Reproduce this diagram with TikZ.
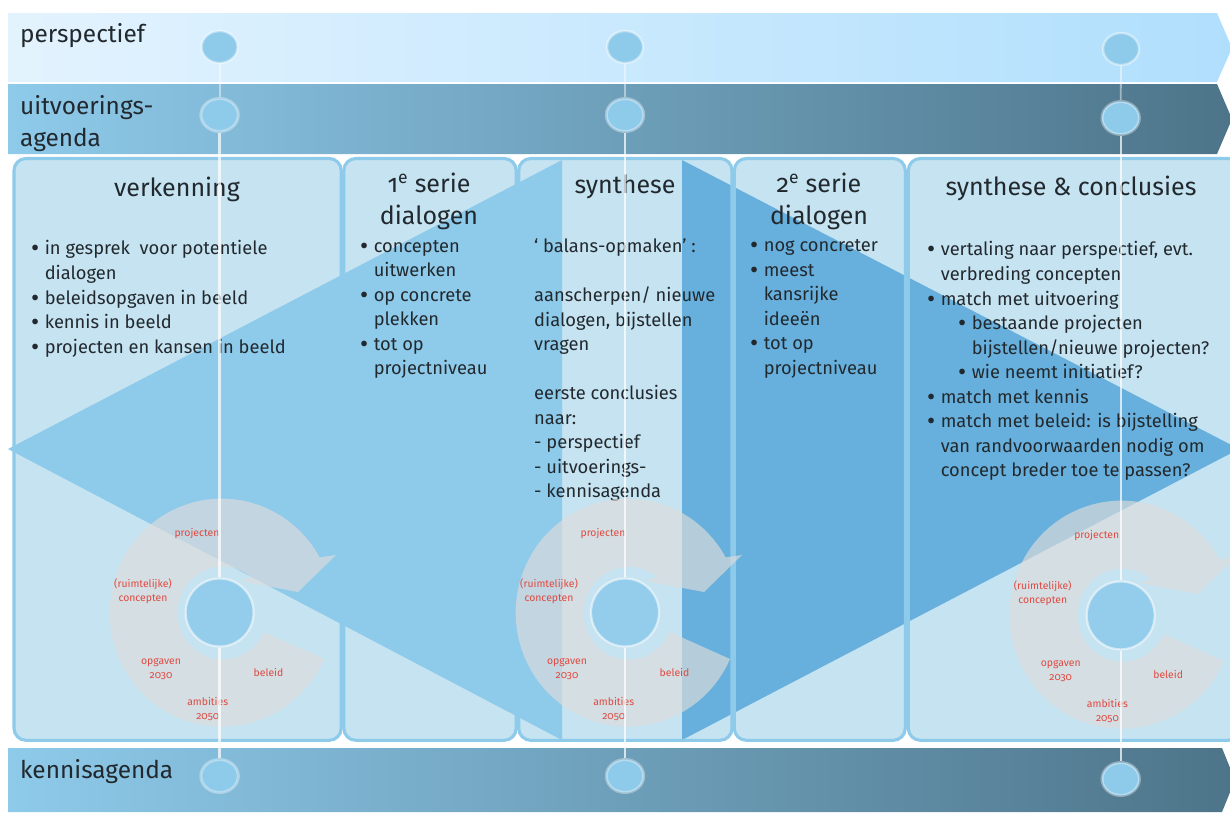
\documentclass[tikz,border=0pt]{standalone}
\usepackage{fontspec}
\setmainfont[Numbers=OldStyle]{Fira Sans}
\usetikzlibrary{shapes.geometric}
\definecolor{paneelfill}{HTML}{C6E3F1}
\definecolor{paneelrand}{HTML}{8ECAEA}
\definecolor{driehoekdonker}{HTML}{67B0DD}
\definecolor{tekstkleur}{HTML}{22292E}
\definecolor{ringgrijs}{HTML}{DEDCDB}
\definecolor{ringrood}{HTML}{DF4A42}
\definecolor{bandlicht}{HTML}{E3F3FE}
\definecolor{bandlichtrechts}{HTML}{B0DFFD}
\definecolor{banddonker}{HTML}{4D7489}
\tikzset{
  paneel/.style={rounded corners=12pt},
  rand/.style={draw=paneelrand,line width=3.1pt},
  bandtekst/.style={text=tekstkleur,font=\fontsize{24.4}{32}\selectfont,anchor=west,align=left,inner sep=0pt},
  titel/.style={text=tekstkleur,font=\fontsize{25}{32}\selectfont,align=center,inner sep=0pt},
  lijst/.style={text=tekstkleur,font=\fontsize{18.3}{24.55}\selectfont,anchor=north west,align=left,inner sep=0pt},
  ringtekst/.style={text=ringrood,font=\fontsize{10.4}{14}\selectfont,align=center,inner sep=0pt},
  bol/.style={ellipse,minimum width=36pt,minimum height=32pt,inner sep=0pt,fill=paneelrand,draw=white,draw opacity=.45,line width=2.4pt},
  bolmid/.style={ellipse,minimum width=37.5pt,minimum height=33pt,inner sep=0pt,fill=paneelrand,draw=white,draw opacity=.35,line width=3pt},
  hub/.style={circle,minimum size=68pt,inner sep=0pt,fill=paneelrand!95!white,draw=white,draw opacity=.55,line width=2.2pt},
  lijn/.style={draw=white,line width=2.3pt,opacity=.72},
  lijndun/.style={draw=white,line width=1.8pt,opacity=.45}
}
\newcommand{\bul}{\makebox[13.6pt][l]{\raisebox{-2pt}{\fontsize{25}{25}\selectfont\textbullet}}}
\newcommand{\hang}{\hspace*{13.6pt}}
% ring met pijl en de teksten erop
\newcommand{\cyclusring}[3]{
  \begin{scope}[shift={(#1,#2)}]
    \fill[ringgrijs,opacity=.66] (102,45) arc[start angle=-24,end angle=-331,x radius=112pt,y radius=114pt]
      -- (114,-59) -- (76,-22) -- (18,-33) -- (29,-37)
      arc[start angle=51,end angle=336,x radius=45pt,y radius=46.5pt] -- cycle;
    \node[ringtekst] (#3proj) at (-25,-80.5) {projecten};
    \node[ringtekst] (#3conc) at (-79,-22.5) {(ruimtelijke)\\concepten};
    \node[ringtekst] (#3opg) at (-61,55.5) {opgaven\\2030};
    \node[ringtekst] (#3bel) at (46.5,58.5) {beleid};
    \node[ringtekst] (#3amb) at (-14.3,95) {ambities\\2050};
  \end{scope}
}
\begin{document}
\begin{tikzpicture}[x=1pt,y=-1pt]
  \useasboundingbox (0,0) rectangle (1230,812);
  \clip (0,0) rectangle (1230,812);
  % banden
  \shade[left color=bandlicht,right color=bandlichtrechts] (8,13) -- (1217,13) -- (1232,48) -- (1217,82) -- (8,82) -- cycle;
  \shade[left color=paneelrand,right color=banddonker] (8,84) -- (1217,84) -- (1232,119) -- (1217,154) -- (8,154) -- cycle;
  \shade[left color=paneelrand,right color=banddonker] (8,748) -- (1222,748) -- (1235,780) -- (1222,812) -- (8,812) -- cycle;
  % panelen
  \fill[paneel,paneelfill] (14,158.5) rectangle (341.2,740.3);
  \fill[paneel,paneelfill] (343.8,158.5) rectangle (516.2,740.3);
  \fill[paneel,paneelfill] (518.7,158.5) rectangle (732,740.3);
  \fill[paneel,paneelfill] (734.3,158.5) rectangle (905.3,740.3);
  \fill[paneel,paneelfill] (908.3,158.5) rectangle (1240,740.3);
  % driehoeken
  \fill[paneelrand] (8,449) -- (562,160) -- (562,740) -- cycle;
  \fill[driehoekdonker] (1239,449) -- (682,160) -- (682,740) -- cycle;
  \draw[paneel,rand] (14,158.5) rectangle (341.2,740.3);
  \draw[paneel,rand] (343.8,158.5) rectangle (516.2,740.3);
  \draw[paneel,rand] (518.7,158.5) rectangle (732,740.3);
  \draw[paneel,rand] (734.3,158.5) rectangle (905.3,740.3);
  \draw[paneel,rand] (908.3,158.5) rectangle (1240,740.3);
  % teksten
  \node[bandtekst] (perspectief) at (20,36) {perspectief};
  \node[bandtekst] (uitvoering) at (20,124) {uitvoerings-\\agenda};
  \node[bandtekst] (kennis) at (20,772) {kennisagenda};
  \node[titel] (verkenning) at (177,189) {verkenning};
  \node[titel] (serieeen) at (429,201.5) {1\textsuperscript{e} serie\\dialogen};
  \node[titel] (synthese) at (625,187) {synthese};
  \node[titel] (serietwee) at (819,201.5) {2\textsuperscript{e} serie\\dialogen};
  \node[titel] (conclusies) at (1071,188) {synthese \& conclusies};
  \node[lijst] (lijstA) at (31,240.5) {\bul in gesprek\ \ voor potentiele\\\hang dialogen\\\bul beleidsopgaven in beeld\\\bul kennis in beeld\\\bul projecten en kansen in beeld};
  \node[lijst] (lijstB) at (360,240) {\bul concepten\\\hang uitwerken\\\bul op concrete\\\hang plekken\\\bul tot op\\\hang projectniveau};
  \node[lijst] (lijstC) at (534,238.5) {‘ balans-opmaken’ :\\[24.55pt]aanscherpen/ nieuwe\\dialogen, bijstellen\\vragen\\[24.55pt]eerste conclusies\\naar:\\- perspectief\\- uitvoerings-\\- kennisagenda};
  \node[lijst] (lijstD) at (750,239.5) {\bul nog concreter\\\bul meest\\\hang kansrijke\\\hang ideeën\\\bul tot op\\\hang projectniveau};
  \node[lijst] (lijstE) at (927,241.5) {\bul vertaling naar perspectief, evt.\\\hang verbreding concepten\\\bul match met uitvoering\\\hspace*{31pt}\bul bestaande projecten\\\hspace*{44.6pt}bijstellen/nieuwe projecten?\\\hspace*{31pt}\bul wie neemt initiatief?\\\bul match met kennis\\\bul match met beleid: is bijstelling\\\hang van randvoorwaarden nodig om\\\hang concept breder toe te passen?};
  % ringen
  \cyclusring{222}{614}{a}
  \cyclusring{628}{614}{b}
  \cyclusring{1121.7}{616}{c}
  % bollen
  \node[bol] (topA) at (219.6,47) {};
  \node[bol] (topB) at (625,47) {};
  \node[bol] (topC) at (1121,49) {};
  \node[bolmid] (midA) at (219.6,115) {};
  \node[bolmid] (midB) at (625,115) {};
  \node[bolmid] (midC) at (1120.7,118) {};
  \node[hub] (hubA) at (219.6,612.5) {};
  \node[hub] (hubB) at (625,612.5) {};
  \node[hub] (hubC) at (1120.7,615.4) {};
  \node[bolmid] (lowA) at (219.6,776) {};
  \node[bolmid] (lowB) at (625,776) {};
  \node[bolmid] (lowC) at (1120.7,779) {};
  % verticale lijnen
  \draw[lijndun] (topA) -- (midA);
  \draw[lijndun] (topB) -- (midB);
  \draw[lijndun] (topC) -- (midC);
  \draw[lijn] (midA) -- (hubA);
  \draw[lijn] (midB) -- (hubB);
  \draw[lijn] (midC) -- (hubC);
  \draw[lijn] (hubA) -- (lowA);
  \draw[lijn] (hubB) -- (lowB);
  \draw[lijn] (hubC) -- (lowC);
\end{tikzpicture}
\end{document}
